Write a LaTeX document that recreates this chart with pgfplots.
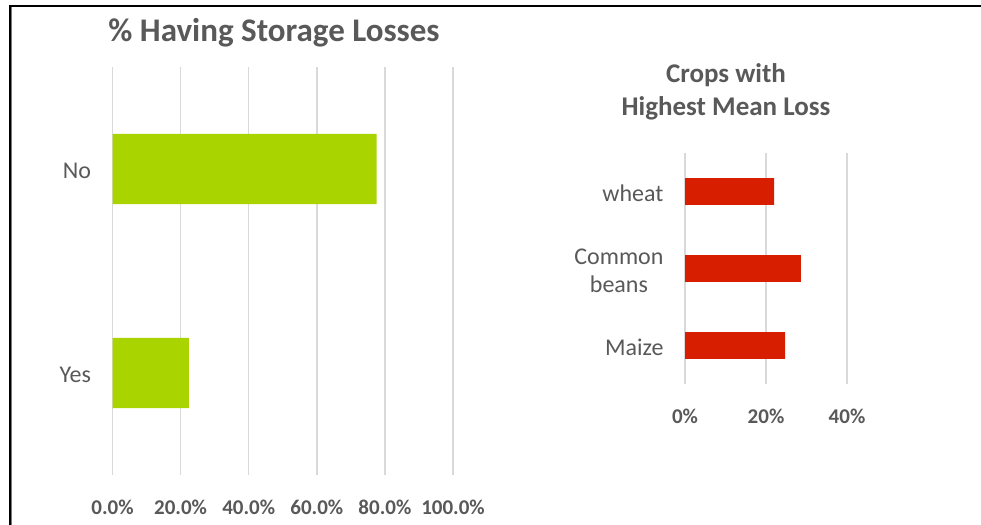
\documentclass[border=0pt]{standalone}
\usepackage{fontspec}
\setmainfont{Carlito}[Numbers=Lining]
\usepackage{pgfplots}
\pgfplotsset{compat=1.18}
\definecolor{txt}{HTML}{595959}
\definecolor{gridc}{HTML}{D9D9D9}
\definecolor{bargreen}{HTML}{A9D400}
\definecolor{barred}{HTML}{D81E00}
\begin{document}
\begin{tikzpicture}[x=1bp,y=1bp]
\useasboundingbox (0,0) rectangle (981,525);
\fill[white] (0,0) rectangle (981,525);
\pgfplotsset{common/.style={
  scale only axis,
  xbar,
  /pgf/number format/assume math mode=true,
  axis line style={draw=none},
  major tick length=0pt,
  xmajorgrids,
  ymajorgrids=false,
  grid style={gridc, line width=1.5bp},
  xticklabel style={font=\fontsize{21bp}{25bp}\selectfont\bfseries, text=txt, anchor=base, yshift=-40bp},
  yticklabel style={font=\fontsize{24bp}{28bp}\selectfont, text=txt, xshift=-18bp, yshift=-2bp, align=center},
  ymin=-0.5,
}}
% left chart
\begin{axis}[common,
  at={(112.5bp,50bp)}, anchor=south west,
  width=340.5bp, height=408bp,
  xmin=0, xmax=100, ymax=1.5,
  bar width=0.345,
  xtick={0,20,40,60,80,100},
  xticklabels={\textbf{0.0\%},\textbf{20.0\%},\textbf{40.0\%},\textbf{60.0\%},\textbf{80.0\%},\textbf{100.0\%}},
  ytick={0,1}, yticklabels={Yes,No},
]
\addplot[fill=bargreen, draw=none] coordinates {(22.4,0) (77.6,1)};
\end{axis}
% right chart
\begin{axis}[common,
  at={(685bp,141bp)}, anchor=south west,
  width=162bp, height=231bp,
  xmin=0, xmax=40, ymax=2.5,
  bar width=0.35,
  xtick={0,20,40},
  xticklabels={\textbf{0\%},\textbf{20\%},\textbf{40\%}},
  ytick={0,1,2}, yticklabels={Maize,{Common\\beans},wheat},
]
\addplot[fill=barred, draw=none] coordinates {(24.7,0) (28.6,1) (22.0,2)};
\end{axis}
% titles
\node[text=txt, font=\fontsize{33bp}{38bp}\selectfont\bfseries] at (274,492) {\% Having Storage Losses};
\node[text=txt, font=\fontsize{27bp}{33bp}\selectfont\bfseries, align=center] at (726,433.5) {Crops with\\Highest Mean Loss};
% frame
\draw[black, line width=2bp] (10,519) -- (981,519);
\draw[black, line width=2bp] (10,0) -- (10,520);
\draw[olive, line width=1bp] (11.5,0) -- (11.5,518);
\end{tikzpicture}
\end{document}
